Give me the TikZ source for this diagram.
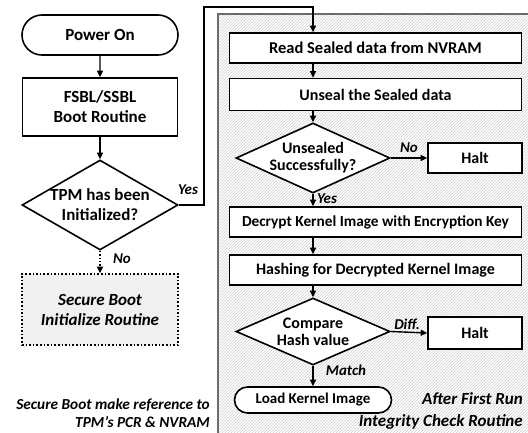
\documentclass[tikz,border=0pt]{standalone}
\usepackage{fontspec}
\setmainfont{Carlito}
\usetikzlibrary{arrows.meta,shapes.geometric,shapes.misc,patterns}

\tikzset{
  box/.style={draw, line width=1.6pt, fill=white, inner sep=0pt, align=center},
  term/.style={draw, line width=1.6pt, fill=white, rounded rectangle, inner sep=0pt},
  decision/.style={draw, line width=1.6pt, fill=white, diamond, inner sep=0pt},
  flow/.style={line width=1.4pt, -{Triangle[length=6.5pt,width=6pt]}},
  tag/.style={font=\bfseries\itshape\fontsize{15}{17}\selectfont, inner sep=0pt},
  bigtxt/.style={font=\bfseries\fontsize{17}{21}\selectfont},
  midtxt/.style={font=\bfseries\fontsize{16}{19}\selectfont},
}

\begin{document}
\begin{tikzpicture}[x=1pt, y=-1pt]
\useasboundingbox (0,0) rectangle (528,433);

% hatched panel holding the integrity check routine
\fill[white] (218,14) rectangle (530,435);
\path[pattern=north east lines, pattern color=gray!38] (218,14) rectangle (530,435);
\draw[line width=2pt, gray!85!black] (530,14) -- (218,14) -- (218,435);

% left column: first boot
\node[term, bigtxt, minimum width=156pt, minimum height=40pt] (pwr) at (100,35) {Power On};
\node[box, bigtxt, minimum width=155pt, minimum height=58pt] (fsbl) at (100,107) {FSBL/SSBL\\[-1pt]Boot Routine};
\node[decision, minimum width=156pt, minimum height=90pt] (tpm) at (100,205) {};
\node[bigtxt, align=center] (tpmtxt) at (100,205) {TPM has been\\[-1pt]Initialized?};
\node[box, dotted, line width=1.6pt, fill=gray!12, font=\bfseries\itshape\fontsize{17}{21}\selectfont,
      minimum width=156pt, minimum height=71pt] (init) at (100,309.5) {Secure Boot\\[-1pt]Initialize Routine};

\draw[flow] (pwr) -- (fsbl);
\draw[flow] (fsbl) -- (tpm);
\draw[flow, dotted] (tpm.south) -- (init.north);
\node[tag] (lno) at (122,259) {No};

% right column: integrity check
\node[box, midtxt, font=\bfseries\fontsize{16.5}{20}\selectfont, minimum width=292pt, minimum height=30pt] (read) at (375.5,48) {Read Sealed data from NVRAM};
\node[box, midtxt, minimum width=292pt, minimum height=32pt] (unseal) at (375.5,94.5) {Unseal the Sealed data};
\node[decision, minimum width=154pt, minimum height=70pt] (uok) at (313,158) {};
\node[midtxt, align=center] (uoktxt) at (313,158) {Unsealed\\[-2pt]Successfully?};
\node[box, midtxt, minimum width=94pt, minimum height=30pt] (halt1) at (475,158) {Halt};
\node[box, midtxt, font=\bfseries\fontsize{15.3}{18}\selectfont, minimum width=292pt, minimum height=30pt] (dec) at (375.5,222) {Decrypt Kernel Image with Encryption Key};
\node[box, midtxt, minimum width=292pt, minimum height=30pt] (hash) at (375.5,270) {Hashing for Decrypted Kernel Image};
\node[decision, minimum width=154pt, minimum height=67pt] (cmp) at (313,331.5) {};
\node[midtxt, align=center] (cmptxt) at (313,331.5) {Compare\\[-2pt]Hash value};
\node[box, midtxt, minimum width=94pt, minimum height=32pt] (halt2) at (475,333) {Halt};
\node[term, midtxt, font=\bfseries\fontsize{15}{18}\selectfont, minimum width=157pt, minimum height=26pt] (load) at (313,400) {Load Kernel Image};

% loop from the first decision into the panel
\coordinate (c1) at (204,205);
\coordinate (c2) at (204,7);
\coordinate (c3) at (313,7);
\draw[flow] (tpm.east) -- (c1) -- (c2) -- (c3) -- (c3 |- read.north);
\node[tag] (lyes) at (188,190) {Yes};

\draw[flow] (read.south -| uok) -- (unseal.north -| uok);
\draw[flow] (unseal.south -| uok) -- (uok.north);
\draw[flow] (uok.east) -- (halt1.west);
\node[tag] (uno) at (409,148) {No};
\draw[flow] (uok.south) -- (dec.north -| uok);
\node[tag] (uyes) at (327,199) {Yes};
\draw[flow] (dec.south -| uok) -- (hash.north -| uok);
\draw[flow] (hash.south -| cmp) -- (cmp.north);
\draw[flow] (cmp.east) -- (halt2.west);
\node[tag] (diff) at (407,324) {Diff.};
\draw[flow] (cmp.south) -- (load.north);
\node[tag] (match) at (346,370) {Match};

% captions
\node[tag, align=right, anchor=east, font=\bfseries\itshape\fontsize{15.3}{18}\selectfont] (note) at (210,413)
  {Secure Boot make reference to\\TPM’s PCR \& NVRAM};
\node[tag, align=right, anchor=east, font=\bfseries\itshape\fontsize{17}{22}\selectfont] (after) at (523,411)
  {After First Run\\Integrity Check Routine};
\end{tikzpicture}
\end{document}
